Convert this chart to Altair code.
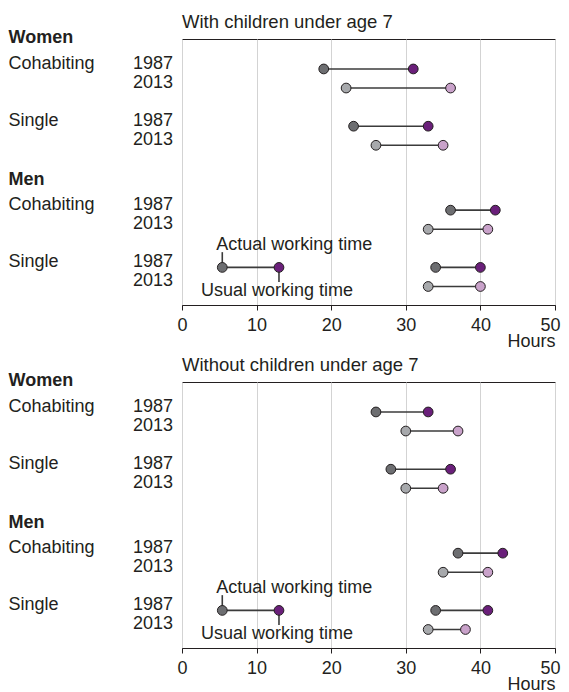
import altair as alt
import pandas as pd

# ---------------- data ----------------
groups = ["Women", "Men"]
statuses = ["Cohabiting", "Single"]
years = ["1987", "2013"]

with_actual = [19, 22, 23, 26, 36, 33, 34, 33]
with_usual = [31, 36, 33, 35, 42, 41, 40, 40]
without_actual = [26, 30, 28, 30, 37, 35, 34, 33]
without_usual = [33, 37, 36, 35, 43, 41, 41, 38]

panel_titles = ["With children under age 7", "Without children under age 7"]
legend_labels = ["Actual working time", "Usual working time"]
legend_values = [5.4, 13]
x_ticks = [0, 10, 20, 30, 40, 50]

# ---------------- style ----------------
FONT = "Liberation Sans"
INK = "#231f20"
FS = 18
key_domain = ["Actual 1987", "Actual 2013", "Usual 1987", "Usual 2013"]
key_range = ["#6d6e71", "#a7a9ac", "#6a1f7a", "#c9a2ca"]
W, H = 373, 266
Y_DOMAIN = [-1.57, 12.37]
LEFT_X = -173.5


def row_pos(gi, si, yi):
    return gi * 7.4 + si * 3 + yi


def panel(actual, usual, title):
    seg, pts, status_lab, year_lab, head_lab = [], [], [], [], []
    k = 0
    for gi, g in enumerate(groups):
        head_lab.append({"text": g, "pos": row_pos(gi, 0, 0) - 1.34})
        for si, s in enumerate(statuses):
            status_lab.append({"text": s, "pos": row_pos(gi, si, 0)})
            for yi, yr in enumerate(years):
                p = row_pos(gi, si, yi)
                year_lab.append({"text": yr, "pos": p})
                seg.append({"pos": p, "a": actual[k], "u": usual[k]})
                pts.append({"pos": p, "v": actual[k], "key": "Actual " + yr})
                pts.append({"pos": p, "v": usual[k], "key": "Usual " + yr})
                k += 1

    lp = row_pos(1, 1, 0)
    leg_seg = pd.DataFrame([{"pos": lp, "a": legend_values[0], "u": legend_values[1]}])
    leg_pts = pd.DataFrame([
        {"pos": lp, "v": legend_values[0], "key": "Actual 1987"},
        {"pos": lp, "v": legend_values[1], "key": "Usual 1987"},
    ])
    leg_ticks = pd.DataFrame([
        {"v": legend_values[0], "pos": lp, "pos2": lp - 0.8},
        {"v": legend_values[1], "pos": lp, "pos2": lp + 0.76},
    ])
    leg_text_a = pd.DataFrame([{"v": legend_values[0], "pos": lp - 0.91, "text": legend_labels[0]}])
    leg_text_u = pd.DataFrame([{"v": legend_values[1], "pos": lp + 1.52, "text": legend_labels[1]}])

    xaxis = alt.Axis(values=x_ticks, grid=True, title="Hours", titleAnchor="end",
                     titleAlign="right", titleX=W, titleY=41, titleBaseline="alphabetic",
                     labelBaseline="alphabetic", labelPadding=20.5, tickSize=5,
                     labelFlush=True, labelFlushOffset=5,
                     labelFont=FONT, labelFontSize=FS, labelColor=INK,
                     titleFont=FONT, titleFontSize=FS, titleFontWeight="normal", titleColor=INK,
                     domainColor=INK, tickColor=INK, gridColor="#d3d3d3", gridWidth=1)
    xs = alt.Scale(domain=[0, 50], nice=False, zero=False)
    ys = alt.Scale(domain=Y_DOMAIN, reverse=True, nice=False, zero=False)
    fill = alt.Fill("key:N", scale=alt.Scale(domain=key_domain, range=key_range), legend=None)

    def X(f):
        return alt.X(f, scale=xs, axis=xaxis)

    def Y(f):
        return alt.Y(f, scale=ys, axis=None)

    seg_layer = alt.Chart(pd.DataFrame(seg)).mark_rule(color="#3b3b3b", strokeWidth=1.6).encode(
        x=X("a:Q"), x2="u:Q", y=Y("pos:Q"))
    pt_layer = alt.Chart(pd.DataFrame(pts)).mark_circle(size=95, opacity=1, stroke=INK, strokeWidth=1).encode(
        x=X("v:Q"), y=Y("pos:Q"), fill=fill)

    lseg = alt.Chart(leg_seg).mark_rule(color="#3b3b3b", strokeWidth=1.6).encode(
        x=X("a:Q"), x2="u:Q", y=Y("pos:Q"))
    lticks = alt.Chart(leg_ticks).mark_rule(color="#3b3b3b", strokeWidth=1.6).encode(
        x=X("v:Q"), y=Y("pos:Q"), y2="pos2:Q")
    lpts = alt.Chart(leg_pts).mark_circle(size=95, opacity=1, stroke=INK, strokeWidth=1).encode(
        x=X("v:Q"), y=Y("pos:Q"), fill=fill)
    ltxt_a = alt.Chart(leg_text_a).mark_text(align="left", baseline="alphabetic", dx=-6,
                                             font=FONT, fontSize=FS, color=INK).encode(
        x=X("v:Q"), y=Y("pos:Q"), text="text:N")
    ltxt_u = alt.Chart(leg_text_u).mark_text(align="center", baseline="alphabetic", dx=-2,
                                             font=FONT, fontSize=FS, color=INK).encode(
        x=X("v:Q"), y=Y("pos:Q"), text="text:N")

    head_layer = alt.Chart(pd.DataFrame(head_lab)).mark_text(
        align="left", baseline="alphabetic", font=FONT, fontSize=FS, fontWeight="bold", color=INK).encode(
        x=alt.value(LEFT_X), y=Y("pos:Q"), text="text:N")
    status_layer = alt.Chart(pd.DataFrame(status_lab)).mark_text(
        align="left", baseline="alphabetic", font=FONT, fontSize=FS, color=INK).encode(
        x=alt.value(LEFT_X), y=Y("pos:Q"), text="text:N")
    year_layer = alt.Chart(pd.DataFrame(year_lab)).mark_text(
        align="right", baseline="alphabetic", font=FONT, fontSize=FS, color=INK).encode(
        x=alt.value(-9), y=Y("pos:Q"), text="text:N")

    return alt.layer(
        seg_layer, lseg, lticks, pt_layer, lpts, ltxt_a, ltxt_u,
        head_layer, status_layer, year_layer,
    ).properties(
        width=W, height=H,
        title=alt.TitleParams(panel_titles[title],
                              anchor="start", frame="group", font=FONT, fontSize=18.5,
                              fontWeight="normal", color=INK, baseline="alphabetic", offset=-17),
    )


chart = alt.vconcat(
    panel(with_actual, with_usual, 0),
    panel(without_actual, without_usual, 1),
    spacing=4,
).configure(
    background="white", padding={"top": 4, "left": 0, "right": 0, "bottom": 0}
).configure_view(stroke=INK, strokeWidth=1)

chart.save("out.html", embed_options={"renderer": "svg", "actions": False})
